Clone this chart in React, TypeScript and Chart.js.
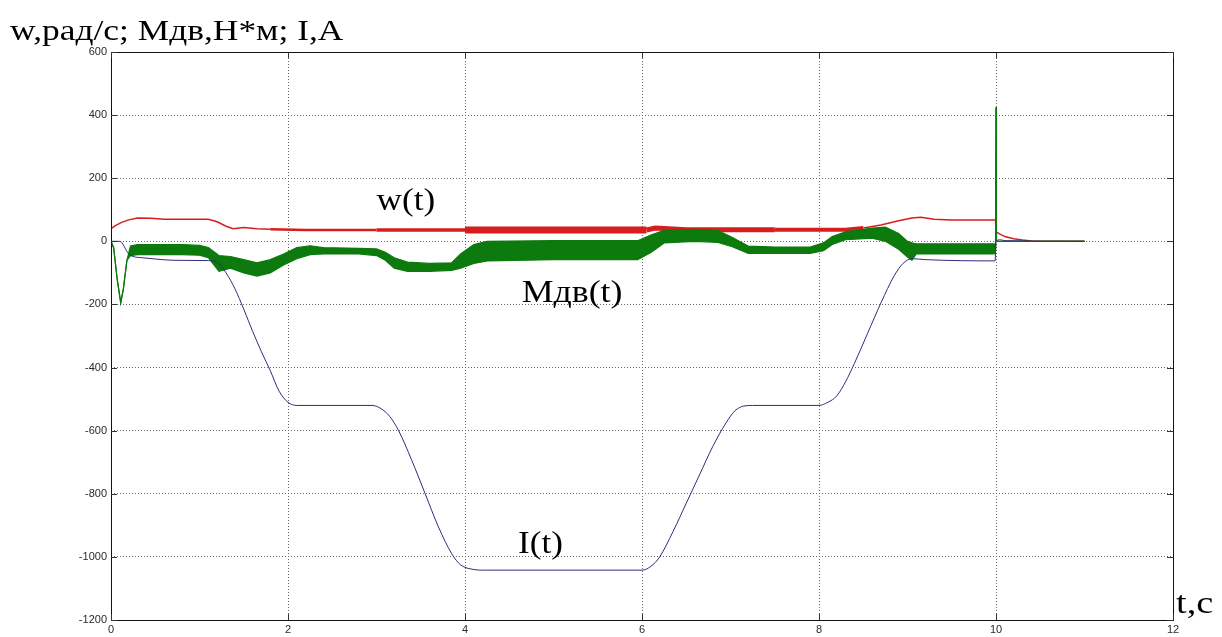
import React, { useEffect, useRef } from "react";
import { Chart, registerables } from "chart.js";

Chart.register(...registerables);

// ---- axis ticks ----
const xTicks = [0, 2, 4, 6, 8, 10, 12];
const yTicks = [-1200, -1000, -800, -600, -400, -200, 0, 200, 400, 600];

// ---- w(t), rad/s (red) ----
const tW = [0, 0.05, 0.12, 0.2, 0.3, 0.45, 0.6, 1.1, 1.2, 1.3, 1.38, 1.5, 1.65, 1.8, 2.2, 3.0, 4.0, 5.0, 6.05, 6.15, 6.3, 6.5, 7.5, 8.3, 8.5, 8.7, 8.9, 9.05, 9.15, 9.3, 9.5, 9.995, 10.0, 10.05, 10.1, 10.2, 10.3, 10.4, 10.5, 11.0];
const wVals = [40, 50, 60, 68, 74, 73, 70, 70, 62, 48, 40, 44, 40, 38, 36, 36, 36, 36, 36, 42, 40, 37, 37, 37, 42, 52, 65, 74, 76, 70, 68, 68, 30, 22, 15, 8, 4, 1, 0, 0];

// ---- Mдв(t), N*m (green) : upper / lower envelope of the oscillating torque ----
const tM = [0, 0.03, 0.07, 0.11, 0.14, 0.18, 0.22, 0.3, 0.5, 0.8, 1.0, 1.1, 1.22, 1.35, 1.5, 1.65, 1.8, 1.95, 2.1, 2.25, 2.4, 2.8, 3.0, 3.1, 3.2, 3.35, 3.6, 3.85, 3.95, 4.1, 4.25, 5.0, 5.95, 6.1, 6.25, 6.6, 6.85, 7.0, 7.2, 7.5, 7.9, 8.05, 8.15, 8.3, 8.6, 8.75, 8.9, 9.0, 9.05, 9.1, 9.5, 9.98, 9.995, 10.0, 10.005, 10.05, 11.0];
const mUpper = [0, -20, -120, -195, -150, -60, -15, -10, -10, -10, -13, -20, -45, -48, -58, -68, -58, -40, -20, -14, -20, -22, -24, -35, -52, -66, -70, -68, -40, -10, 0, 2, 2, 20, 35, 38, 35, 15, -15, -18, -18, -5, 15, 30, 42, 45, 25, 0, -5, -8, -8, -8, -20, 425, 0, 0, 0];
const mLower = [0, -20, -120, -195, -150, -60, -45, -42, -42, -42, -44, -52, -95, -85, -100, -110, -100, -75, -55, -42, -40, -40, -45, -60, -85, -95, -95, -92, -85, -70, -62, -58, -58, -35, -5, 0, -3, -15, -38, -38, -38, -30, -10, 5, 10, 0, -25, -50, -60, -40, -40, -40, -20, 425, 0, 0, 0];

// ---- I(t), A (blue) ----
const tI = [0, 0.1, 0.2, 0.25, 0.35, 0.5, 0.7, 1.1, 1.2, 1.3, 1.4, 1.5, 1.6, 1.7, 1.8, 1.9, 2.0, 2.1, 2.95, 3.05, 3.15, 3.25, 3.4, 3.55, 3.7, 3.85, 3.95, 4.1, 4.2, 6.0, 6.1, 6.2, 6.35, 6.5, 6.65, 6.8, 6.95, 7.05, 7.15, 7.25, 8.0, 8.1, 8.2, 8.3, 8.4, 8.55, 8.7, 8.85, 8.95, 9.05, 9.2, 9.99, 10.0, 10.05, 10.1, 11.0];
const iVals = [0, 0, -40, -48, -52, -56, -60, -61, -66, -100, -150, -215, -285, -350, -410, -475, -510, -520, -520, -530, -555, -600, -695, -800, -905, -990, -1025, -1040, -1042, -1042, -1030, -1000, -920, -830, -740, -650, -575, -537, -522, -520, -520, -510, -490, -445, -387, -291, -195, -109, -70, -55, -58, -62, 0, 5, 2, 0];

const toXY = (xs: number[], ys: number[]) => xs.map((x, i) => ({ x, y: ys[i] }));

const RED = "rgb(214,30,30)";
const GREEN = "rgb(12,122,12)";
const BLUE = "rgb(45,45,125)";

const serif = '"Liberation Serif", "Times New Roman", serif';

function stretchedText(ctx: CanvasRenderingContext2D, text: string, x: number, y: number, sx: number) {
  ctx.save();
  ctx.translate(x, y);
  ctx.scale(sx, 1);
  ctx.fillText(text, 0, 0);
  ctx.restore();
}

const decorPlugin = {
  id: "decor",
  afterDraw(chart: any) {
    const { ctx, chartArea: a, scales } = chart;
    const xs = scales.x;
    const ys = scales.y;
    ctx.save();
    // frame
    ctx.strokeStyle = "#111";
    ctx.lineWidth = 1;
    ctx.setLineDash([]);
    ctx.strokeRect(Math.round(a.left) + 0.5, Math.round(a.top) + 0.5, Math.round(a.right - a.left), Math.round(a.bottom - a.top));
    // inward ticks
    ctx.strokeStyle = "#333";
    ctx.beginPath();
    const tl = 6;
    yTicks.forEach((v) => {
      const y = Math.round(ys.getPixelForValue(v)) + 0.5;
      ctx.moveTo(a.left, y);
      ctx.lineTo(a.left + tl, y);
      ctx.moveTo(a.right, y);
      ctx.lineTo(a.right - tl, y);
    });
    xTicks.forEach((v) => {
      const x = Math.round(xs.getPixelForValue(v)) + 0.5;
      ctx.moveTo(x, a.bottom);
      ctx.lineTo(x, a.bottom - tl);
      ctx.moveTo(x, a.top);
      ctx.lineTo(x, a.top + tl);
    });
    ctx.stroke();

    // texts
    ctx.fillStyle = "#000";
    ctx.textBaseline = "alphabetic";
    ctx.textAlign = "left";
    ctx.font = `30px ${serif}`;
    stretchedText(ctx, "w,рад/с; Мдв,Н*м; I,A", 10, 40, 1.18);

    ctx.font = `32px ${serif}`;
    stretchedText(ctx, "w(t)", xs.getPixelForValue(3.0), ys.getPixelForValue(99), 1.1);
    stretchedText(ctx, "Мдв(t)", xs.getPixelForValue(4.64), ys.getPixelForValue(-192), 1.12);
    stretchedText(ctx, "I(t)", xs.getPixelForValue(4.6), ys.getPixelForValue(-988), 1.1);

    stretchedText(ctx, "t,c", a.right + 3, a.bottom - 7, 1.2);
    ctx.restore();
  },
};

export default function App() {
  const ref = useRef<HTMLCanvasElement>(null);

  useEffect(() => {
    const canvas = ref.current;
    if (!canvas) return;
    const redWidth = (t: number) => {
      if (t < 1.8) return 1.5;
      if (t < 2.3) return 2.5;
      if (t < 3.95) return 3.5;
      if (t < 6.05) return 7;
      if (t < 7.5) return 5;
      if (t < 8.5) return 4;
      return 1.5;
    };
    const chart = new Chart(canvas, {
      type: "line",
      data: {
        datasets: [
          {
            label: "w(t)",
            data: toXY(tW, wVals),
            borderColor: RED,
            borderWidth: 1.5,
            pointRadius: 0,
            fill: false,
            order: 4,
            segment: {
              borderWidth: (c: any) => redWidth(c.p0.parsed.x),
            },
          } as any,
          {
            label: "Mдв upper",
            data: toXY(tM, mUpper),
            borderColor: GREEN,
            backgroundColor: GREEN,
            borderWidth: 1.2,
            pointRadius: 0,
            fill: "+1",
            order: 3,
          },
          {
            label: "Mдв lower",
            data: toXY(tM, mLower),
            borderColor: GREEN,
            borderWidth: 1.2,
            pointRadius: 0,
            fill: false,
            order: 2,
          },
          {
            label: "I(t)",
            data: toXY(tI, iVals),
            borderColor: BLUE,
            borderWidth: 1,
            pointRadius: 0,
            fill: false,
            cubicInterpolationMode: "monotone",
            order: 1,
          },
        ],
      },
      options: {
        animation: false,
        responsive: false,
        devicePixelRatio: 1,
        layout: { padding: { top: 52, right: 49, left: 0, bottom: 0 } },
        plugins: {
          legend: { display: false },
          tooltip: { enabled: false },
          title: { display: false },
        },
        scales: {
          x: {
            type: "linear",
            min: 0,
            max: 12,
            afterBuildTicks: (s: any) => {
              s.ticks = xTicks.map((v) => ({ value: v }));
            },
            afterFit: (s: any) => {
              s.height = 17;
            },
            ticks: {
              callback: (v: any) => String(v),
              font: { family: '"Liberation Sans", Arial, sans-serif', size: 11 },
              color: "#2a2a2a",
              padding: 3,
              maxRotation: 0,
            },
            grid: { color: "#666", drawTicks: false, lineWidth: 1 },
            border: { display: false, dash: [1, 2] },
          },
          y: {
            type: "linear",
            min: -1200,
            max: 600,
            afterBuildTicks: (s: any) => {
              s.ticks = yTicks.map((v) => ({ value: v }));
            },
            afterFit: (s: any) => {
              s.width = 111;
            },
            ticks: {
              callback: (v: any) => String(v),
              font: { family: '"Liberation Sans", Arial, sans-serif', size: 11 },
              color: "#2a2a2a",
              padding: 4,
            },
            grid: { color: "#666", drawTicks: false, lineWidth: 1 },
            border: { display: false, dash: [1, 2] },
          },
        },
      } as any,
      plugins: [decorPlugin],
    });
    return () => chart.destroy();
  }, []);

  return (
    <div style={{ position: "fixed", left: 0, top: 0, width: 1222, height: 637, background: "#fff" }}>
      <canvas ref={ref} width={1222} height={637} style={{ width: 1222, height: 637, display: "block" }} />
    </div>
  );
}
